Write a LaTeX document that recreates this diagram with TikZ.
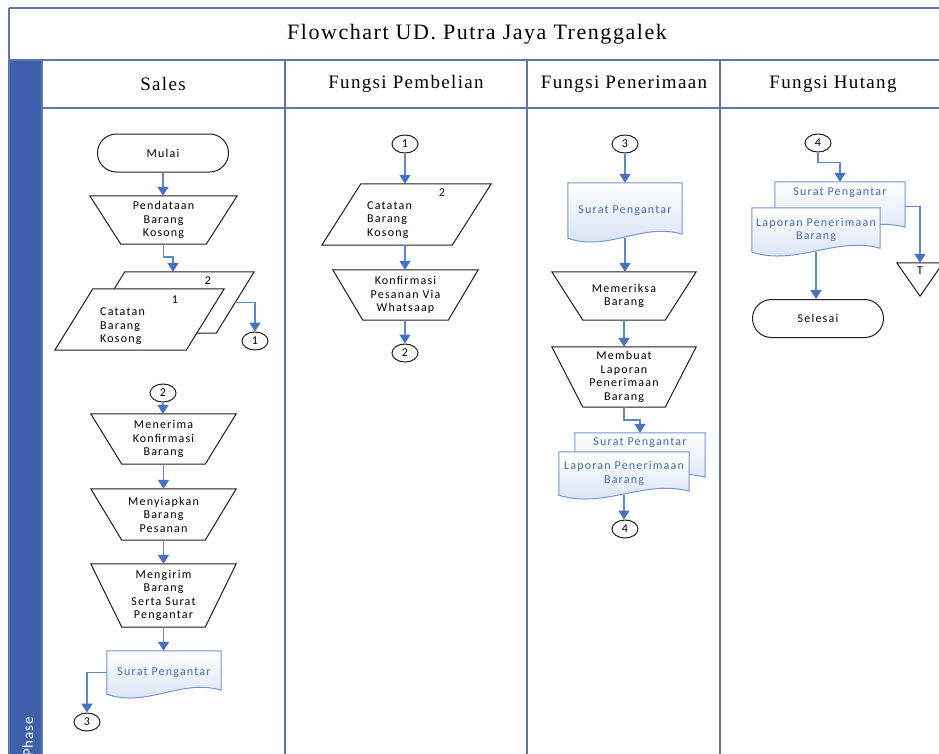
\documentclass[tikz,border=0pt]{standalone}
\usepackage{fontspec}
\usetikzlibrary{shapes.geometric,shapes.misc,arrows.meta,calc}
\newfontfamily\bodyfont{Carlito}[LetterSpace=10]
\newfontfamily\phasefont{Carlito}[LetterSpace=6]
\newfontfamily\titlefont{Liberation Serif}[LetterSpace=7]
\definecolor{frameline}{RGB}{96,118,172}
\definecolor{phasebar}{RGB}{62,96,170}
\definecolor{flowblue}{RGB}{70,114,196}
\definecolor{flowline}{RGB}{96,136,206}
\definecolor{docedge}{RGB}{118,150,212}
\definecolor{docfill}{RGB}{212,224,244}
\definecolor{doctext}{RGB}{72,106,182}
\definecolor{shapeedge}{RGB}{30,30,30}
\pgfdeclarelayer{outlines}
\pgfsetlayers{outlines,main}

% outline helpers: manual operation, parallelogram (data), document
\newcommand\manopline[2]{\path[outline] (#1.north west) -- (#1.north east)
  -- ([xshift=-#2pt]#1.south east) -- ([xshift=#2pt]#1.south west) -- cycle;}
\newcommand\paraline[2]{\path[outline] ([xshift=#2pt]#1.north west) -- (#1.north east)
  -- ([xshift=-#2pt]#1.south east) -- (#1.south west) -- cycle;}
\newcommand\docline[1]{\path[docshape] (#1.north west) -- (#1.north east)
  -- ([yshift=4pt]#1.south east)
  .. controls ($(#1.south west)!0.65!(#1.south east)+(0,-16)$)
  and ($(#1.south west)!0.35!(#1.south east)+(0,14)$) .. (#1.south west) -- cycle;}

\tikzset{
  body/.style={font=\bodyfont\fontsize{12}{13.5}\selectfont, align=center, inner sep=0pt},
  lanehead/.style={font=\titlefont\fontsize{19}{22}\selectfont, inner sep=0pt},
  titletext/.style={font=\titlefont\fontsize{22}{26}\selectfont, inner sep=0pt},
  bbox/.style 2 args={body, rectangle, minimum width=#1pt, minimum height=#2pt},
  term/.style={body, rounded rectangle, draw=shapeedge, line width=1pt,
    minimum width=131pt, minimum height=38pt},
  conn/.style={ellipse, draw=shapeedge, line width=1pt, minimum width=26pt,
    minimum height=18pt, inner sep=0pt, font=\bodyfont\fontsize{12}{12}\selectfont},
  outline/.style={draw=shapeedge, line width=1pt, fill=white},
  docshape/.style={draw=docedge, line width=1pt, top color=white, bottom color=docfill},
  doctxt/.style={body, text=doctext},
  flow/.style={draw=flowline, line width=1.8pt,
    -{Triangle[length=9pt,width=11pt,color=flowblue]}},
  lane/.style={draw=frameline, line width=1.3pt}
}

\begin{document}
\begin{tikzpicture}[x=1pt,y=-1pt]
\path[use as bounding box] (0,0) rectangle (939,753);
\clip (0,0) rectangle (939,753);

% swimlane frame
\fill[phasebar] (9,60) rectangle (42,760);
\draw[lane] (9,8) -- (945,8);
\draw[lane] (9,8) -- (9,760);
\draw[lane] (9,60) -- (945,60);
\draw[lane] (42,108) -- (945,108);
\foreach \lx in {42,285,527,720} \draw[lane] (\lx,60) -- (\lx,760);

\node[titletext] (title) at (477,34) {Flowchart UD. Putra Jaya Trenggalek};
\node[lanehead] (hsales) at (163,84) {Sales};
\node[lanehead] (hbeli) at (406,84) {Fungsi Pembelian};
\node[lanehead] (hterima) at (624,84) {Fungsi Penerimaan};
\node[lanehead] (hhutang) at (833,84) {Fungsi Hutang};
\node[font=\phasefont\fontsize{15}{15}\selectfont, text=white, inner sep=0pt,
  rotate=90, anchor=base west] (phase) at (33,757) {Phase};

% Sales
\node[term] (mulai) at (163,153) {Mulai};
\node[bbox={147}{48}] (pend) at (163.5,220) {Pendataan\\Barang\\Kosong};
\node[bbox={167}{61}] (catback) at (170.5,302.5) {};
\node[bbox={169}{61}] (catfront) at (139.5,319.5) {};
\node[body, align=left, anchor=west] (catfronttxt) at (100,326.5) {Catatan\\Barang\\Kosong};
\node[body] (catfrontno) at (175,300) {1};
\node[body] (catbackno) at (208,281) {2};
\node[conn] (c1a) at (255,341) {1};
\node[conn] (c2a) at (163,393) {2};
\node[bbox={145}{50}] (terima) at (163.5,439) {Menerima\\Konfirmasi\\Barang};
\node[bbox={145}{51}] (siap) at (163.5,514.5) {Menyiapkan\\Barang\\Pesanan};
\node[bbox={145}{63}] (kirim) at (163.5,595.5) {Mengirim\\Barang\\Serta Surat\\Pengantar};
\node[bbox={114}{43}, doctxt] (docS) at (164,672.5) {Surat Pengantar};
\node[conn] (c3a) at (87,722) {3};

% Fungsi Pembelian
\node[conn] (c1b) at (405,144) {1};
\node[bbox={169}{61}] (catP) at (406.5,214.5) {};
\node[body, align=left, anchor=west] (catPtxt) at (367,220) {Catatan\\Barang\\Kosong};
\node[body] (catPno) at (442,193) {2};
\node[bbox={145}{50}] (konf) at (405.5,295) {Konfirmasi\\Pesanan Via\\Whatsaap};
\node[conn] (c2b) at (405,353) {2};

% Fungsi Penerimaan
\node[conn] (c3b) at (625,144) {3};
\node[bbox={114}{55}, doctxt] (docP) at (625,210.5) {Surat Pengantar};
\node[bbox={144}{48}] (periksa) at (624,296) {Memeriksa\\Barang};
\node[bbox={144}{60}] (buat) at (624,377) {Membuat\\Laporan\\Penerimaan\\Barang};
\node[bbox={130}{48}] (backP) at (640,457) {};
\node[doctxt, anchor=north] (backPtxt) at (640,438) {Surat Pengantar};
\node[bbox={130}{43}, doctxt] (frontP) at (624,473.5) {Laporan Penerimaan\\Barang};
\node[conn] (c4a) at (625,529) {4};

% Fungsi Hutang
\node[conn] (c4b) at (818,143) {4};
\node[bbox={130}{49}] (backH) at (840,206.5) {};
\node[doctxt, anchor=north] (backHtxt) at (840,188) {Surat Pengantar};
\node[bbox={128}{44}, doctxt] (frontH) at (816,230) {Laporan Penerimaan\\Barang};
\node[bbox={46}{33}] (tri) at (920,279.5) {};
\node[body] (trit) at (920,271) {T};
\node[term] (selesai) at (818,318.5) {Selesai};

% shape outlines, behind the text
\begin{pgfonlayer}{outlines}
  \manopline{pend}{31}
  \paraline{catback}{38}
  \paraline{catfront}{38}
  \manopline{terima}{31}
  \manopline{siap}{31}
  \manopline{kirim}{31}
  \docline{docS}
  \paraline{catP}{39}
  \manopline{konf}{30}
  \docline{docP}
  \manopline{periksa}{31}
  \manopline{buat}{31}
  \docline{backP}
  \docline{frontP}
  \docline{backH}
  \docline{frontH}
  \path[outline] (tri.north west) -- (tri.north east) -- (tri.south) -- cycle;
\end{pgfonlayer}

% flow connectors
\draw[flow] (mulai.south) -- (mulai.south |- pend.north);
\draw[flow] (pend.south) -- ++(0,13) -| ([xshift=2.5pt]catback.north);
\draw[flow] ([xshift=-19pt]catback.east) -| (c1a.north);
\draw[flow] (c2a.south) -- (c2a.south |- terima.north);
\draw[flow] (terima.south) -- (terima.south |- siap.north);
\draw[flow] (siap.south) -- (siap.south |- kirim.north);
\draw[flow] (kirim.south) -- (kirim.south |- docS.north);
\draw[flow] (docS.west) -| (c3a.north);

\draw[flow] (c1b.south) -- (c1b.south |- catP.north);
\draw[flow] (c1b.south |- catP.south) -- (c1b.south |- konf.north);
\draw[flow] (c2b.north |- konf.south) -- (c2b.north);

\draw[flow] (c3b.south) -- (c3b.south |- docP.north);
\draw[flow] (docP.south) -- (docP.south |- periksa.north);
\draw[flow] (periksa.south) -- (periksa.south |- buat.north);
\draw[flow] (buat.south) -- ++(0,13) -| (backP.north);
\draw[flow] (frontP.south) -- (frontP.south |- c4a.north);

\draw[flow] (c4b.south) -- ++(0,10) -| (backH.north);
\draw[flow] (backH.east) -| (tri.north);
\draw[flow] (frontH.south) -- (frontH.south |- selesai.north);
\end{tikzpicture}
\end{document}
